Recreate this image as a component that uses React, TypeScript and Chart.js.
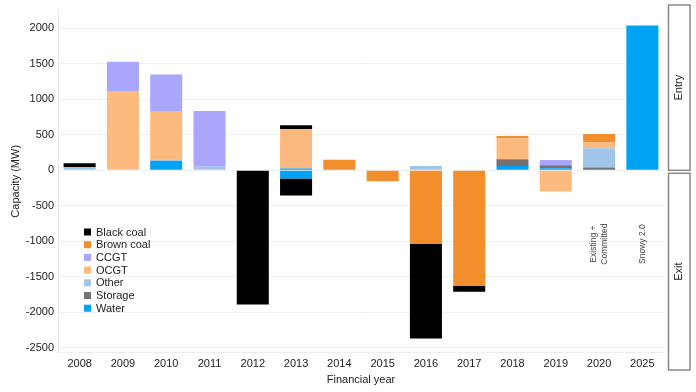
import React, { useEffect, useRef } from "react";
import { Chart, registerables } from "chart.js";

Chart.register(...registerables);

const years = ["2008", "2009", "2010", "2011", "2012", "2013", "2014", "2015", "2016", "2017", "2018", "2019", "2020", "2025"];
const yTickValues = [-2500, -2000, -1500, -1000, -500, 0, 500, 1000, 1500, 2000];

// Entry (positive) capacity, MW
const waterEntry = [0, 0, 130, 0, 0, 25, 0, 0, 0, 0, 60, 30, 0, 2040];
const storageEntry = [0, 0, 0, 0, 0, 0, 0, 0, 0, 0, 95, 40, 40, 0];
const otherEntry = [45, 15, 25, 50, 0, 0, 0, 0, 60, 0, 0, 0, 270, 0];
const ocgtEntry = [0, 1090, 670, 0, 0, 555, 0, 0, 0, 0, 297, 0, 80, 0];
const ccgtEntry = [0, 425, 525, 785, 0, 0, 0, 0, 0, 0, 0, 75, 0, 0];
const brownEntry = [0, 0, 0, 0, 0, 0, 150, 0, 0, 0, 32, 0, 120, 0];
const blackEntry = [55, 0, 0, 0, 0, 55, 0, 0, 0, 0, 0, 0, 0, 0];

// Exit (negative) capacity, MW
const waterExit = [0, 0, 0, 0, 0, -115, 0, 0, 0, 0, 0, 0, 0, 0];
const ocgtExit = [0, 0, 0, 0, 0, 0, 0, 0, 0, 0, 0, -300, 0, 0];
const brownExit = [0, 0, 0, 0, 0, 0, 0, -155, -1040, -1630, 0, 0, 0, 0];
const blackExit = [0, 0, 0, 0, -1890, -240, 0, 0, -1330, -80, 0, 0, 0, 0];

const legendLabels = ["Black coal", "Brown coal", "CCGT", "OCGT", "Other", "Storage", "Water"];
const legendColors = ["#000000", "#F28E2B", "#A9A6FB", "#FDBA7F", "#9FC5E8", "#767171", "#00A3F4"];
const col = (name: string) => legendColors[legendLabels.indexOf(name)];

const FONT = "'Liberation Sans', Arial, sans-serif";

const overlayPlugin = {
  id: "overlay",
  afterDraw(chart: any) {
    const { ctx, chartArea, scales } = chart;
    const x = scales.x;
    const y = scales.y;
    ctx.save();

    // legend inside plot
    const lx = chartArea.left + 26;
    const ly = 232;
    ctx.font = `11px ${FONT}`;
    ctx.textBaseline = "middle";
    ctx.textAlign = "left";
    legendLabels.forEach((lab, i) => {
      ctx.fillStyle = legendColors[i];
      ctx.fillRect(lx, ly + i * 12.7 - 3.5, 7, 7);
      ctx.fillStyle = "#222";
      ctx.fillText(lab, lx + 12, ly + i * 12.7 + 0.5);
    });

    // annotations
    ctx.fillStyle = "#444";
    ctx.font = `8.5px ${FONT}`;
    ctx.textAlign = "center";
    const ay = y.getPixelForValue(-1040);
    const x20 = x.getPixelForValue(12);
    ctx.save();
    ctx.translate(x20, ay);
    ctx.rotate(-Math.PI / 2);
    ctx.fillText("Existing +", 0, -5);
    ctx.fillText("Committed", 0, 5.5);
    ctx.restore();
    const x25 = x.getPixelForValue(13);
    ctx.save();
    ctx.translate(x25, ay);
    ctx.rotate(-Math.PI / 2);
    ctx.fillText("Snowy 2.0", 0, 0);
    ctx.restore();

    // Entry / Exit boxes
    const bx = chartArea.right + 4.5;
    const bw = 21.5;
    const zero = y.getPixelForValue(0);
    ctx.strokeStyle = "#8a8a8a";
    ctx.lineWidth = 1.5;
    const top1 = 5;
    const bot1 = zero;
    const top2 = zero + 3;
    const bot2 = 370;
    ctx.strokeRect(bx, top1, bw, bot1 - top1);
    ctx.strokeRect(bx, top2, bw, bot2 - top2);
    ctx.fillStyle = "#222";
    ctx.font = `11px ${FONT}`;
    ctx.save();
    ctx.translate(bx + bw / 2, (top1 + bot1) / 2);
    ctx.rotate(-Math.PI / 2);
    ctx.fillText("Entry", 0, 0);
    ctx.restore();
    ctx.save();
    ctx.translate(bx + bw / 2, (top2 + bot2) / 2);
    ctx.rotate(-Math.PI / 2);
    ctx.fillText("Exit", 0, 0);
    ctx.restore();

    ctx.restore();
  },
};

export default function App() {
  const ref = useRef<HTMLCanvasElement | null>(null);

  useEffect(() => {
    if (!ref.current) return;
    const mk = (label: string, data: number[], color: string) => ({
      label,
      data,
      backgroundColor: color,
      borderWidth: 0,
      barPercentage: 0.74,
      categoryPercentage: 1,
      stack: "s",
    });
    const chart = new Chart(ref.current, {
      type: "bar",
      data: {
        labels: years,
        datasets: [
          mk("Water", waterEntry, col("Water")),
          mk("Storage", storageEntry, col("Storage")),
          mk("Other", otherEntry, col("Other")),
          mk("OCGT", ocgtEntry, col("OCGT")),
          mk("CCGT", ccgtEntry, col("CCGT")),
          mk("Brown coal", brownEntry, col("Brown coal")),
          mk("Black coal", blackEntry, col("Black coal")),
          mk("Water exit", waterExit, col("Water")),
          mk("OCGT exit", ocgtExit, col("OCGT")),
          mk("Brown coal exit", brownExit, col("Brown coal")),
          mk("Black coal exit", blackExit, col("Black coal")),
        ],
      },
      options: {
        responsive: false,
        animation: false,
        layout: { padding: { top: 7, right: 32, left: 0, bottom: 0 } },
        plugins: { legend: { display: false }, tooltip: { enabled: false } },
        scales: {
          x: {
            stacked: true,
            grid: { display: false, drawTicks: false },
            border: { display: true, color: "#eeeeee" },
            afterFit: (s: any) => {
              s.height = 40;
            },
            ticks: { color: "#222", font: { family: FONT, size: 11 }, padding: 5, maxRotation: 0 },
            title: { display: true, text: "Financial year", color: "#222", font: { family: FONT, size: 11 }, padding: { top: 4, bottom: 5 } },
          },
          y: {
            stacked: true,
            min: -2560,
            max: 2250,
            afterBuildTicks: (s: any) => {
              s.ticks = yTickValues.map((v) => ({ value: v }));
            },
            afterFit: (s: any) => {
              s.width = 58;
            },
            grid: { color: "#f0f0f0", drawTicks: false },
            border: { display: true, color: "#e8e8e8" },
            ticks: { color: "#222", font: { family: FONT, size: 11 }, padding: 4, callback: (v: any) => String(v) },
            title: { display: true, text: "Capacity (MW)", color: "#222", font: { family: FONT, size: 11 }, padding: { top: 9, bottom: 0 } },
          },
        },
      },
      plugins: [overlayPlugin],
    });
    return () => chart.destroy();
  }, []);

  return (
    <div style={{ position: "absolute", left: 0, top: 0, width: 696, height: 392, background: "#fff" }}>
      <canvas ref={ref} width={696} height={392} style={{ width: 696, height: 392, display: "block" }} />
    </div>
  );
}
